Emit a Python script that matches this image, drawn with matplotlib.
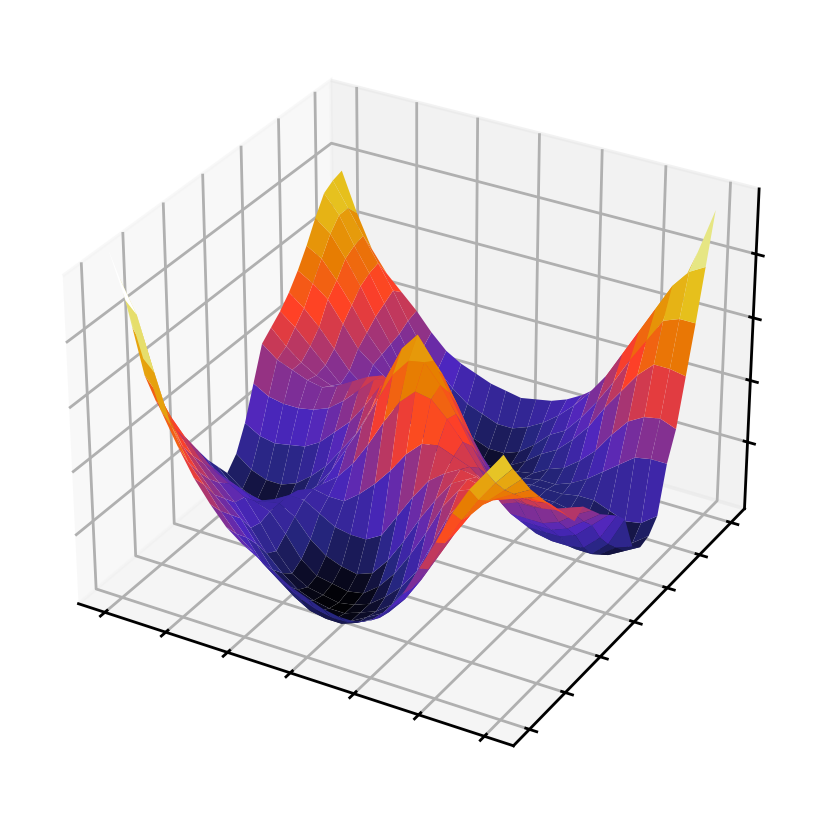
import numpy as np
import matplotlib
matplotlib.use("Agg")
import matplotlib.pyplot as plt

# Heights estimated by eye from the reference, rows = y (low to high), columns = x (low to high)
z_rows = [
 [112,97,80,65,55,46,39,33,29,26,23,20,18,16,15,15,17,22,29,39,49,60,69,76,83],
 [100,90,73,57,47,41,34,28,24,20,16,13,11,10,10,12,15,21,28,36,46,55,63,70,76],
 [82,74,58,48,41,35,30,24,17,13,9,6,5,5,7,10,14,20,28,37,46,54,60,65,70],
 [64,58,49,42,36,31,26,19,12,8,5,3,2,3,6,9,14,22,31,40,48,54,58,61,64],
 [53,49,43,37,32,27,20,13,8,4,2,1,1,3,5,9,16,26,36,44,50,53,55,57,59],
 [44,41,37,32,29,26,19,11,5,2,1,0,1,3,7,12,19,30,41,47,50,52,53,54,54],
 [37,33,30,27,25,22,20,14,7,3,2,1,2,6,12,20,29,39,46,48,50,50,50,51,49],
 [31,26,23,21,20,19,20,17,11,7,5,4,6,12,20,29,37,44,47,46,47,46,46,47,45],
 [26,20,18,16,15,17,20,20,17,14,13,13,16,24,32,39,43,46,45,42,42,41,41,42,40],
 [20,14,11,12,11,14,19,21,20,20,24,29,35,42,47,48,46,44,40,35,37,37,38,40,42],
 [15,10,7,6,6,10,15,20,24,30,38,47,55,60,59,54,48,41,35,29,29,29,31,35,38],
 [10,6,4,3,6,10,15,22,31,40,50,60,66,67,61,53,44,36,29,24,24,24,26,30,34],
 [14,10,8,8,10,14,19,26,33,43,55,66,72,65,56,46,37,29,22,19,19,19,21,26,31],
 [22,19,18,19,20,23,28,33,40,48,53,57,60,58,49,39,30,23,17,14,13,13,14,19,28],
 [33,30,29,29,30,32,36,41,46,48,47,46,47,45,39,31,24,18,14,11,11,9,9,14,24],
 [44,40,38,36,35,37,40,43,45,42,36,32,33,32,29,24,19,15,12,10,8,6,6,10,12],
 [47,42,38,35,33,33,36,37,36,33,28,23,22,22,21,19,16,14,12,11,8,5,3,6,9],
 [50,46,41,36,31,29,30,30,29,24,19,16,15,15,13,12,12,12,12,11,9,6,4,6,10],
 [54,50,45,39,33,29,26,24,21,17,13,10,10,10,10,11,12,12,12,13,13,11,9,10,14],
 [59,56,52,45,38,34,30,25,20,14,9,7,7,8,9,10,11,11,13,16,20,24,28,29,29],
 [65,62,56,49,41,35,28,21,15,10,6,5,5,6,8,9,12,14,18,23,30,36,39,40,38],
 [72,68,61,53,44,36,27,19,13,8,5,3,4,6,9,13,16,21,27,35,42,49,54,54,53],
 [78,72,63,55,46,37,28,20,15,10,8,6,6,8,12,17,20,26,33,41,50,58,66,68,68],
 [80,72,64,56,48,39,31,25,20,16,14,12,12,14,17,21,26,32,39,48,57,66,75,81,84],
 [81,68,57,50,45,40,34,29,26,24,22,21,20,21,22,24,27,31,37,43,50,60,72,85,100],
]
x_ticks = [-6, -4, -2, 0, 2, 4, 6]
y_ticks = [-6, -4, -2, 0, 2, 4, 6]
z_ticks = [21, 42, 63, 84]

Z = np.array(z_rows, dtype=float)
x = np.linspace(-6, 6, Z.shape[1])
y = np.linspace(-6, 6, Z.shape[0])
X, Y = np.meshgrid(x, y)

fig = plt.figure(figsize=(832 / 250, 815 / 250), dpi=250)
ax = fig.add_axes([0.0144, 0.025, 0.95, 0.95], projection="3d")
ax.plot_surface(X, Y, Z, cmap="CMRmap", vmin=0, vmax=100, rstride=1, cstride=1,
                linewidth=0, antialiased=True)
ax.set_xticks(x_ticks)
ax.set_yticks(y_ticks)
ax.set_zticks(z_ticks)
ax.set_zlim(-2.1, 105.1)
ax.set_xticklabels([])
ax.set_yticklabels([])
ax.set_zticklabels([])
fig.savefig("out.png", dpi=250)
